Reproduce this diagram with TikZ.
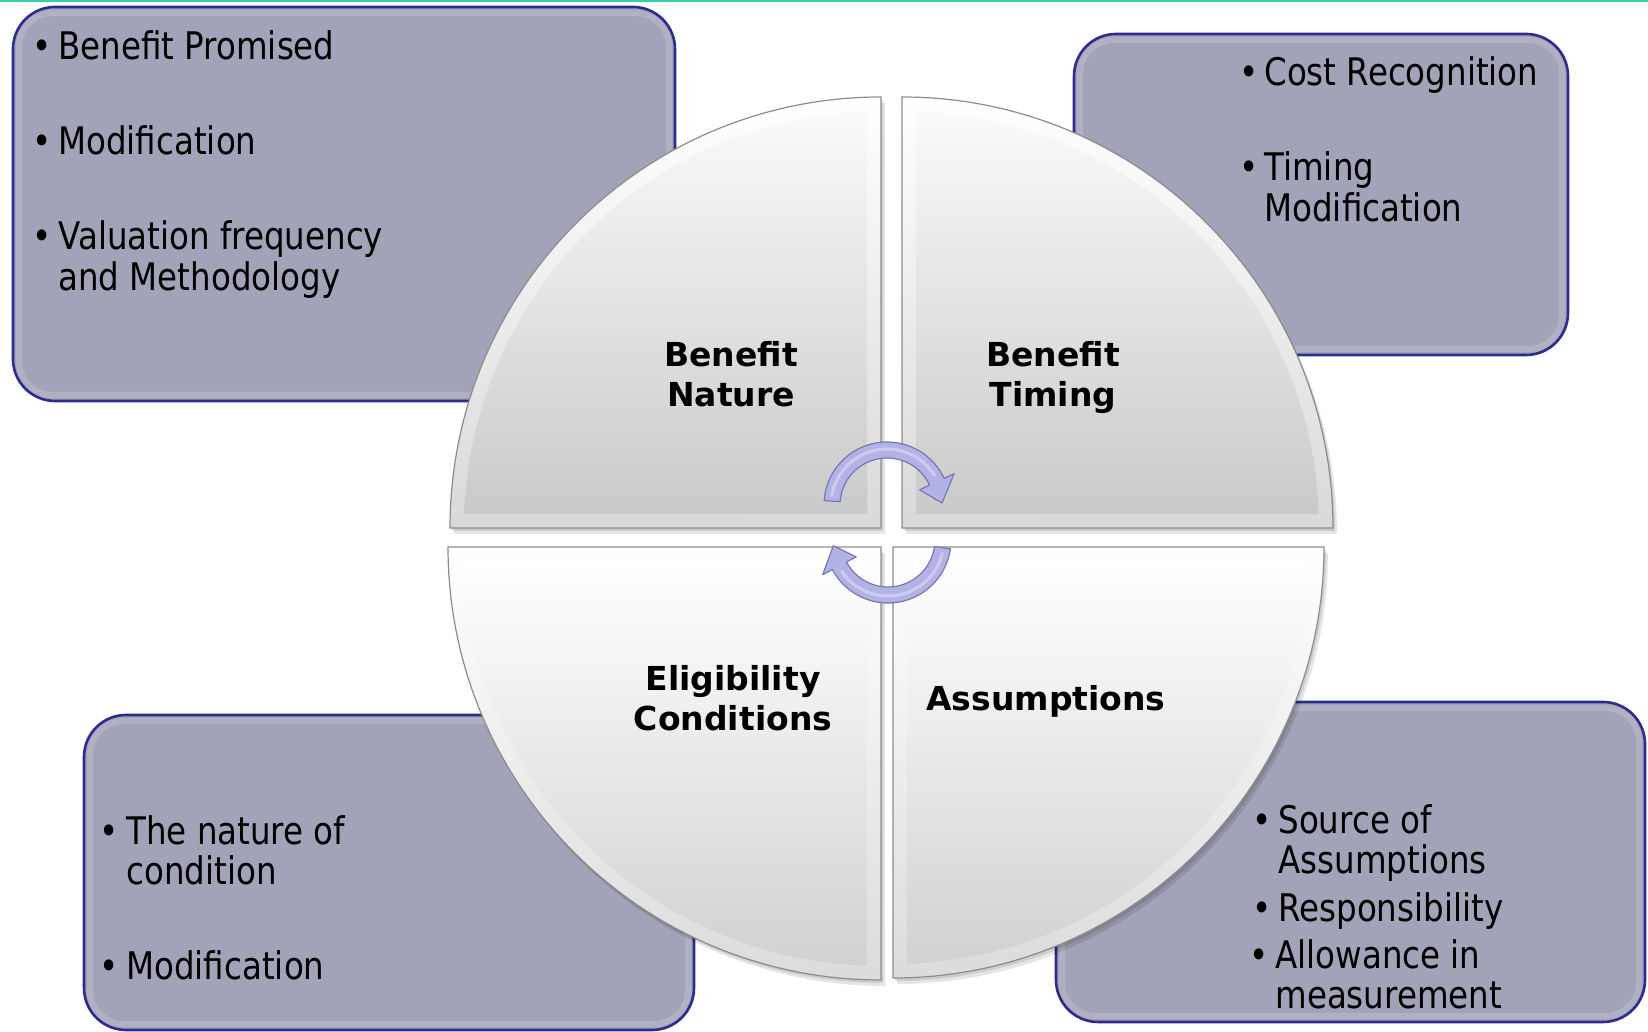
\documentclass[tikz,border=0pt]{standalone}
\usepackage{fontspec}
\newfontfamily\bodyfont{DejaVu Sans}[FakeStretch=0.855]
\newfontfamily\titlefont{DejaVu Sans Bold}
\definecolor{boxfill}{HTML}{A2A2B8}
\definecolor{boxline}{HTML}{2C2C8E}
\definecolor{quadline}{HTML}{8C8C8C}
\definecolor{arrowfill}{HTML}{B2B2E6}
\definecolor{arrowline}{HTML}{7878B0}
\definecolor{topline}{HTML}{38CFA6}
\begin{document}
\begin{tikzpicture}[x=0.5pt,y=0.5pt,
  box/.style={fill=boxfill, draw=boxline, line width=1.3pt, rounded corners=21pt},
  boxglow/.style={draw=white, draw opacity=0.16, line width=3pt, rounded corners=17pt},
  item/.style={font=\bodyfont\fontsize{19}{20}\selectfont, text=black, inner sep=0pt, anchor=base west},
  bul/.style={font=\bodyfont\fontsize{19}{20}\selectfont, text=black, inner sep=0pt, anchor=base},
  title/.style={font=\titlefont\fontsize{16.5}{20}\selectfont, text=black, inner sep=0pt, anchor=base},
  quadedge/.style={draw=quadline, line width=0.6pt},
  shadowq/.style={fill=black, fill opacity=0.10},
  topq/.style={top color=white, bottom color=black!15, quadedge},
  topqin/.style={top color=black!2, bottom color=black!21},
  botq/.style={top color=white, bottom color=black!14, quadedge},
  botqin/.style={top color=white, bottom color=black!18},
  arrowbody/.style={fill=arrowfill, draw=arrowline, line width=0.6pt, line join=round},
  arrowshine/.style={draw=white, draw opacity=0.35, line width=1.5pt, line cap=round}
]
\useasboundingbox (0,0) rectangle (1648,1032);
\fill[white] (0,0) rectangle (1648,1032);
\coordinate (tlA) at (0,1031);
\coordinate (tlB) at (1648,1031);
\draw[topline, line width=1.1pt] (tlA) -- (tlB);

% ---------- side boxes ----------
\draw[box] (13,631) rectangle (675,1025);
\draw[boxglow] (19,637) rectangle (669,1019);
\draw[box] (1074,677) rectangle (1568,998);
\draw[boxglow] (1080,683) rectangle (1562,992);
\draw[box] (84,2) rectangle (694,317);
\draw[boxglow] (90,8) rectangle (688,311);
\draw[box] (1056,10) rectangle (1645,330);
\draw[boxglow] (1062,16) rectangle (1639,324);

% ---------- quadrant corners ----------
\coordinate (ptl) at (881,504);
\coordinate (ptr) at (902,504);
\coordinate (pbl) at (881,485);
\coordinate (pbr) at (893,485);

% shadows
\foreach \s in {(2,-3),(4,-6)}{
\fill[shadowq] ([shift={\s}]ptl) -- ++(0,431) arc[start angle=90,end angle=180,radius=431] -- cycle;
\fill[shadowq] ([shift={\s}]ptr) -- ++(431,0) arc[start angle=0,end angle=90,radius=431] -- cycle;
\fill[shadowq] ([shift={\s}]pbl) -- ++(-433,0) arc[start angle=180,end angle=270,radius=433] -- cycle;
\fill[shadowq] ([shift={\s}]pbr) -- ++(0,-431) arc[start angle=270,end angle=360,radius=431] -- cycle;
}

% top-left quadrant
\path[topq] (ptl) -- ++(0,431) arc[start angle=90,end angle=180,radius=431] -- cycle;
\path[topqin] ([shift={(91.92:417)}]ptl) arc[start angle=91.92,end angle=178.08,radius=417] -- ([shift={(-14,14)}]ptl) -- cycle;
% top-right quadrant
\path[topq] (ptr) -- ++(431,0) arc[start angle=0,end angle=90,radius=431] -- cycle;
\path[topqin] ([shift={(1.92:417)}]ptr) arc[start angle=1.92,end angle=88.08,radius=417] -- ([shift={(14,14)}]ptr) -- cycle;
% bottom-left quadrant
\path[botq] (pbl) -- ++(-433,0) arc[start angle=180,end angle=270,radius=433] -- cycle;
\path[botqin] ([shift={(181.92:419)}]pbl) arc[start angle=181.92,end angle=268.08,radius=419] -- ([shift={(-14,-14)}]pbl) -- cycle;
% bottom-right quadrant
\path[botq] (pbr) -- ++(0,-431) arc[start angle=270,end angle=360,radius=431] -- cycle;
\path[botqin] ([shift={(271.92:417)}]pbr) arc[start angle=271.92,end angle=358.08,radius=417] -- ([shift={(14,-14)}]pbr) -- cycle;

% ---------- cycle arrows ----------
\coordinate (ca) at (887,527);
\draw[arrowbody] ([shift={(176:63)}]ca) arc[start angle=176,end angle=25,radius=63]
  -- ([shift={(25:74)}]ca) -- ([shift={(2:55)}]ca) -- ([shift={(25:36)}]ca)
  -- ([shift={(25:47)}]ca) arc[start angle=25,end angle=176,radius=47] -- cycle;
\draw[arrowshine] ([shift={(170:56)}]ca) arc[start angle=170,end angle=32,radius=56];
\coordinate (cb) at (888,492);
\draw[arrowbody] ([shift={(-8:63)}]cb) arc[start angle=-8,end angle=-152,radius=63]
  -- ([shift={(-152:74)}]cb) -- ([shift={(-174:55)}]cb) -- ([shift={(-152:36)}]cb)
  -- ([shift={(-152:47)}]cb) arc[start angle=-152,end angle=-8,radius=47] -- cycle;
\draw[arrowshine] ([shift={(-14:56)}]cb) arc[start angle=-14,end angle=-146,radius=56];

% ---------- quadrant titles ----------
\node[title] (bn1) at (731,665) {Benefit};
\node[title] (bn2) at (731,625) {Nature};
\node[title] (bt1) at (1053,665) {Benefit};
\node[title] (bt2) at (1053,625) {Timing};
\node[title] (ec1) at (733,341) {Eligibility};
\node[title] (ec2) at (733,301) {Conditions};
\node[title] (as1) at (1046,321) {Assumptions};

% ---------- box texts ----------
\node[bul] (tlb1) at (42,972) {•};
\node[item] (tlt1) at (58,972) {Benefit Promised};
\node[bul] (tlb2) at (42,877) {•};
\node[item] (tlt2) at (58,877) {Modification};
\node[bul] (tlb3) at (42,782) {•};
\node[item] (tlt3) at (58,782) {Valuation frequency};
\node[item] (tlt4) at (58,741) {and Methodology};

\node[bul] (trb1) at (1249,946) {•};
\node[item] (trt1) at (1264,946) {Cost Recognition};
\node[bul] (trb2) at (1249,851) {•};
\node[item] (trt2) at (1264,851) {Timing};
\node[item] (trt3) at (1264,810) {Modification};

\node[bul] (blb1) at (109,187) {•};
\node[item] (blt1) at (126,187) {The nature of};
\node[item] (blt2) at (126,147) {condition};
\node[bul] (blb2) at (109,52) {•};
\node[item] (blt3) at (126,52) {Modification};

\node[bul] (brb1) at (1262,198) {•};
\node[item] (brt1) at (1278,198) {Source of};
\node[item] (brt2) at (1278,158) {Assumptions};
\node[bul] (brb2) at (1262,110) {•};
\node[item] (brt3) at (1278,110) {Responsibility};
\node[bul] (brb3) at (1259,63) {•};
\node[item] (brt4) at (1275,63) {Allowance in};
\node[item] (brt5) at (1275,23) {measurement};
\end{tikzpicture}
\end{document}
